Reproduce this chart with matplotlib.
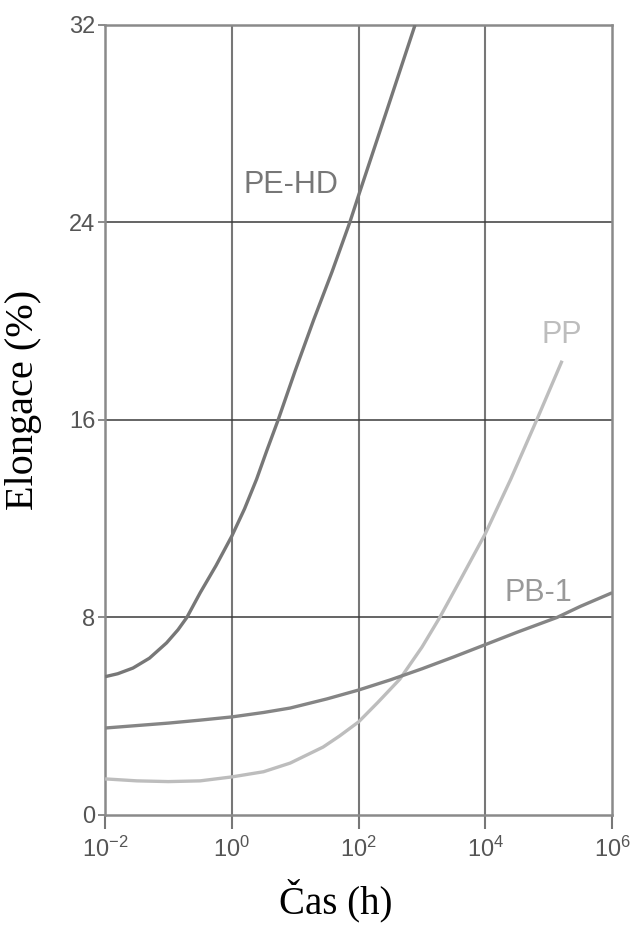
import numpy as np
import matplotlib
matplotlib.use("Agg")
import matplotlib.pyplot as plt

plt.rcParams["font.family"] = ["Liberation Sans", "DejaVu Sans"]
plt.rcParams["mathtext.default"] = "regular"

# values (x as log10 of hours)
pehd_logt = [-2, -1.8, -1.56, -1.3, -1.03, -0.85, -0.71, -0.5, -0.25, 0, 0.2, 0.39,
             0.55, 0.73, 1.0, 1.29, 1.58, 1.86, 2.0, 2.44, 2.89]
pehd_elong = [5.6, 5.72, 5.95, 6.35, 6.97, 7.5, 8.0, 9.0, 10.1, 11.3, 12.4, 13.6,
              14.75, 16.0, 18.0, 20.05, 22.0, 24.0, 25.1, 28.5, 32.0]

pp_logt = [-2, -1.5, -1.0, -0.5, 0, 0.5, 0.92, 1.44, 1.7, 2.0, 2.3, 2.65, 3.0, 3.28,
           3.6, 4.0, 4.4, 4.81, 5.21]
pp_elong = [1.46, 1.38, 1.35, 1.38, 1.54, 1.75, 2.1, 2.75, 3.2, 3.77, 4.55, 5.5, 6.8,
            8.0, 9.5, 11.4, 13.6, 16.0, 18.4]

pb1_logt = [-2, -1.5, -1, -0.5, 0, 0.5, 0.92, 1.5, 2, 2.5, 3, 3.5, 4, 4.5, 5.13, 5.5, 6]
pb1_elong = [3.52, 3.62, 3.72, 3.84, 3.97, 4.15, 4.33, 4.7, 5.06, 5.47, 5.92, 6.4,
             6.9, 7.4, 8.0, 8.45, 9.0]

xticks = [1e-2, 1e0, 1e2, 1e4, 1e6]
xtick_labels = ["$10^{-2}$", "$10^{0}$", "$10^{2}$", "$10^{4}$", "$10^{6}$"]
yticks = [0, 8, 16, 24, 32]

fig = plt.figure(figsize=(6.37, 9.25), dpi=100)
ax = fig.add_axes([0.165, 0.119, 0.796, 0.854])

ax.set_xscale("log")
ax.set_xlim(1e-2, 1e6)
ax.set_ylim(0, 32)

for xv in xticks[1:-1]:
    ax.axvline(xv, color="#777777", lw=1.5, zorder=1)
for yv in yticks[1:-1]:
    ax.axhline(yv, color="#3a3a3a", lw=1.1, zorder=1)

ax.plot(10 ** np.array(pehd_logt), pehd_elong, color="#777777", lw=2.4,
        solid_capstyle="butt", zorder=3)
ax.plot(10 ** np.array(pp_logt), pp_elong, color="#bdbdbd", lw=2.4,
        solid_capstyle="butt", zorder=3)
ax.plot(10 ** np.array(pb1_logt), pb1_elong, color="#858585", lw=2.4,
        solid_capstyle="butt", zorder=3)

ax.text(10 ** 0.93, 25.5, "PE-HD", color="#777777", fontsize=22, ha="center", va="center")
ax.text(10 ** 5.21, 19.45, "PP", color="#bdbdbd", fontsize=22, ha="center", va="center")
ax.text(10 ** 4.83, 9.0, "PB-1", color="#999999", fontsize=22, ha="center", va="center")

ax.set_xticks(xticks)
ax.set_xticklabels(xtick_labels)
ax.xaxis.set_minor_locator(matplotlib.ticker.NullLocator())
ax.set_yticks(yticks)

ax.tick_params(axis="x", direction="out", length=10, width=1.5, color="#777777",
               labelsize=17, labelcolor="#555555", pad=6)
ax.tick_params(axis="y", direction="out", length=5, width=1.2, color="#777777",
               labelsize=17, labelcolor="#555555", pad=2)

for sp in ax.spines.values():
    sp.set_color("#8a8a8a")
    sp.set_linewidth(1.8)

ax.set_xlabel("Čas (h)", family=["Liberation Serif"], fontsize=28)
ax.set_ylabel("Elongace (%)", family=["Liberation Serif"], fontsize=29)
ax.xaxis.set_label_coords(0.454, -0.081)
ax.yaxis.set_label_coords(-0.125, 0.525)

fig.savefig("out.png", dpi=100)
